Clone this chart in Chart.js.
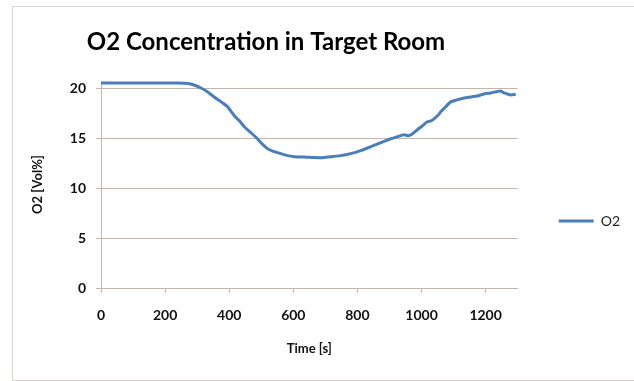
<!DOCTYPE html>
<html>
<head>
<meta charset="utf-8">
<script src="https://cdn.jsdelivr.net/npm/chart.js@4.4.1/dist/chart.umd.min.js"></script>
<style>
    body { margin: 0; background: #fff; }
    #wrap { position: relative; width: 634px; height: 381px; overflow: hidden; }
    #frame { position: absolute; left: 12px; top: 6px; width: 640px; height: 373px; border: 1px solid #d6d2ce; }
    #myChart { position: absolute; left: 0; top: 0; }
</style>
</head>
<body>
<div id="wrap">
    <div id="frame"></div>
    <canvas id="myChart" width="634" height="381"></canvas>
</div>
<script>
    var chartTitle = "O2 Concentration in Target Room"
    var seriesName = "O2"
    var xTitle = "Time [s]"
    var yTitle = "O2 [Vol%]"

    // time in seconds and O2 reading
    var times = [0, 40, 80, 120, 160, 200, 240, 270, 290, 312, 333, 353, 375, 395, 416, 432, 447, 468, 488, 505,
        520, 540, 561, 582, 603, 640, 686, 717, 748, 779, 810, 842, 873, 904, 925, 945, 960, 972, 987, 1003,
        1018, 1030, 1039, 1050, 1060, 1075, 1091, 1110, 1133, 1155, 1174, 1195, 1216, 1237, 1247, 1257, 1268, 1278, 1294]
    var o2 = [20.6, 20.6, 20.6, 20.6, 20.6, 20.6, 20.6, 20.55, 20.4, 20.1, 19.7, 19.2, 18.7, 18.2, 17.3, 16.8, 16.2, 15.6, 15.0, 14.4,
        14.0, 13.7, 13.5, 13.3, 13.2, 13.15, 13.1, 13.2, 13.3, 13.5, 13.8, 14.2, 14.6, 15.0, 15.2, 15.4, 15.3, 15.5, 15.9, 16.3,
        16.7, 16.8, 17.0, 17.3, 17.7, 18.2, 18.7, 18.9, 19.1, 19.2, 19.3, 19.5, 19.6, 19.75, 19.8, 19.6, 19.5, 19.4, 19.45]

    var xMin = 0, xMax = 1300, xStep = 200
    var yMin = 0, yMax = 20.8, yStep = 5

    var points = []
    for (var i = 0; i < times.length; i++) {
        points.push({x: times[i], y: o2[i]})
    }

    var gridColor = "#c2b6ae"
    var tickFont = {family: "Lato", size: 14, weight: "bold"}

    // excel style title, centred a bit left of the canvas
    var titlePlugin = {
        id: "excelTitle",
        afterDraw: function(chart){
            var ctx = chart.ctx
            ctx.save()
            ctx.font = "bold 24px Lato"
            ctx.fillStyle = "#000"
            ctx.textAlign = "center"
            ctx.textBaseline = "alphabetic"
            ctx.fillText(chartTitle, 266, 50)
            ctx.restore()
        }
    }

    var chart = new Chart(document.getElementById("myChart"), {
        type: "line",
        data: {
            datasets: [{
                label: seriesName,
                data: points,
                borderColor: "#4a7ebb",
                backgroundColor: "#4a7ebb",
                borderWidth: 3,
                pointRadius: 0,
                tension: 0.2,
                fill: false
            }]
        },
        options: {
            responsive: false,
            animation: false,
            layout: {padding: {top: 81, left: 30, right: 4, bottom: 20}},
            plugins: {
                title: {display: false},
                tooltip: {enabled: false},
                legend: {
                    position: "right",
                    labels: {
                        boxWidth: 35,
                        boxHeight: 0,
                        padding: 8,
                        color: "#222",
                        font: {family: "Lato", size: 14}
                    }
                }
            },
            scales: {
                x: {
                    type: "linear",
                    min: xMin,
                    max: xMax,
                    grid: {display: true, drawOnChartArea: false, tickLength: 5, color: gridColor},
                    border: {color: gridColor},
                    ticks: {
                        stepSize: xStep, includeBounds: false, padding: 14, color: "#111", font: tickFont, maxRotation: 0,
                        callback: function(v){ return String(v) }
                    },
                    title: {display: true, text: xTitle, color: "#111", font: {family: "Lato", size: 13, weight: "bold"}, padding: {top: 4, bottom: 4}},
                    afterFit: function(scale){ scale.height = 73 }
                },
                y: {
                    min: yMin,
                    max: yMax,
                    grid: {color: gridColor, tickLength: 5},
                    border: {color: gridColor},
                    ticks: {stepSize: yStep, includeBounds: false, padding: 10, color: "#111", font: tickFont},
                    title: {display: true, text: yTitle, color: "#111", font: {family: "Lato", size: 13, weight: "bold"}, padding: {top: 0, bottom: 0}},
                    afterFit: function(scale){ scale.width = 71 }
                },
                // empty axis, only keeps the legend away from the plot
                gap: {
                    axis: "y",
                    position: "right",
                    display: true,
                    grid: {display: false, drawTicks: false},
                    border: {display: false},
                    ticks: {display: false},
                    afterFit: function(scale){ scale.width = 33 }
                }
            }
        },
        plugins: [titlePlugin]
    })
</script>
</body>
</html>
